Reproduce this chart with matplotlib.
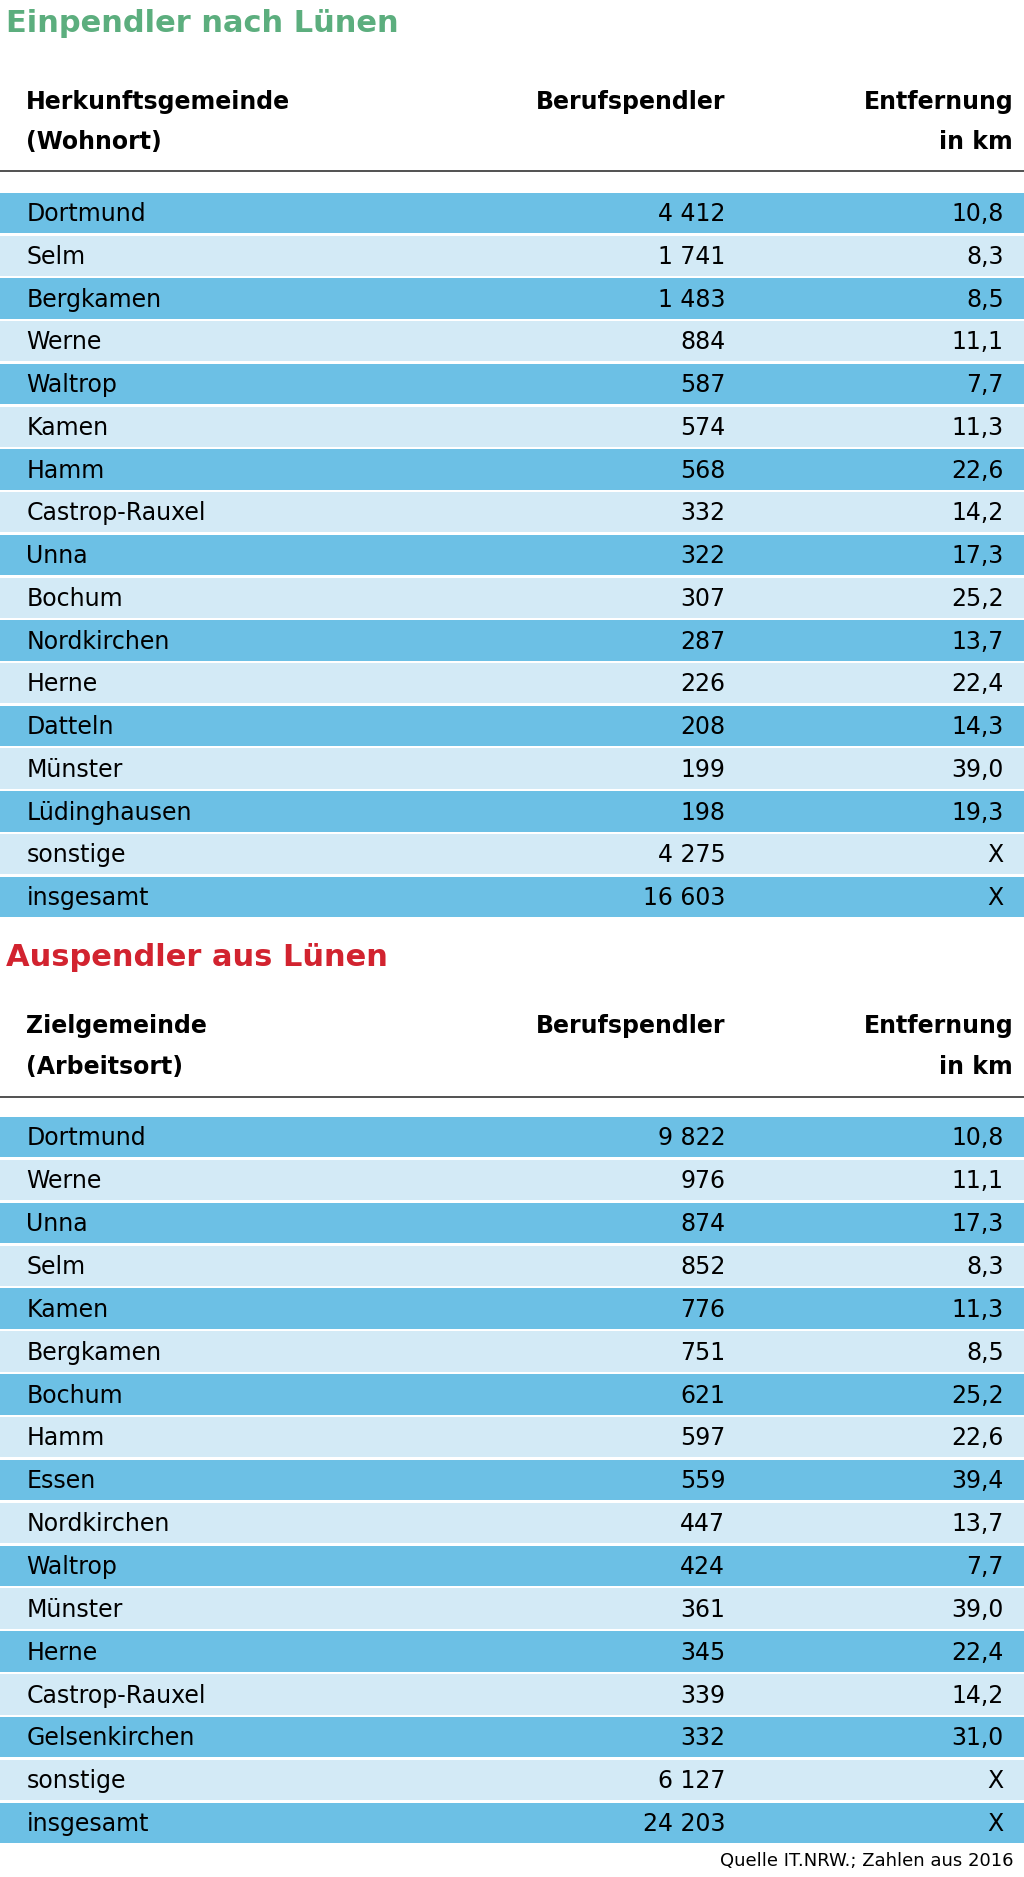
import matplotlib
matplotlib.use("Agg")
import matplotlib.pyplot as plt

ein_orte = ["Dortmund","Selm","Bergkamen","Werne","Waltrop","Kamen","Hamm","Castrop-Rauxel","Unna",
            "Bochum","Nordkirchen","Herne","Datteln","Münster","Lüdinghausen","sonstige","insgesamt"]
ein_pendler = ["4 412","1 741","1 483","884","587","574","568","332","322","307","287","226","208","199","198","4 275","16 603"]
ein_km = ["10,8","8,3","8,5","11,1","7,7","11,3","22,6","14,2","17,3","25,2","13,7","22,4","14,3","39,0","19,3","X","X"]

aus_orte = ["Dortmund","Werne","Unna","Selm","Kamen","Bergkamen","Bochum","Hamm","Essen","Nordkirchen",
            "Waltrop","Münster","Herne","Castrop-Rauxel","Gelsenkirchen","sonstige","insgesamt"]
aus_pendler = ["9 822","976","874","852","776","751","621","597","559","447","424","361","345","339","332","6 127","24 203"]
aus_km = ["10,8","11,1","17,3","8,3","11,3","8,5","25,2","22,6","39,4","13,7","7,7","39,0","22,4","14,2","31,0","X","X"]

FONT = "Liberation Sans Narrow"
DARK = "#6cc0e5"
LIGHT = "#d3eaf6"
W, H = 857, 1568

fig = plt.figure(figsize=(10.24, 18.77), dpi=100)
ax = fig.add_axes([0, 0, 1, 1])
ax.set_xlim(0, W)
ax.set_ylim(H, 0)
ax.axis("off")

def section(title, tcolor, ty, h1, h2, hy, liney, y0, step, orte, pend, km):
    ax.text(5, ty, title, color=tcolor, fontsize=22, fontweight="bold", family=FONT, va="center")
    ax.text(22, hy, h1, fontsize=17, fontweight="bold", family=FONT, va="center")
    ax.text(22, hy + 34, h2, fontsize=17, fontweight="bold", family=FONT, va="center")
    ax.text(607, hy, "Berufspendler", fontsize=17, fontweight="bold", family=FONT, va="center", ha="right")
    ax.text(848, hy, "Entfernung", fontsize=17, fontweight="bold", family=FONT, va="center", ha="right")
    ax.text(848, hy + 34, "in km", fontsize=17, fontweight="bold", family=FONT, va="center", ha="right")
    ax.plot([0, W], [liney, liney], color="#333333", lw=1.2)
    ys = [y0 + i * step for i in range(len(orte))]
    cols = [DARK if i % 2 == 0 else LIGHT for i in range(len(orte))]
    ax.barh(ys, [W] * len(orte), left=0, height=step - 2, color=cols)
    for y, o, p, k in zip(ys, orte, pend, km):
        ax.text(22, y + 1, o, fontsize=17, family=FONT, va="center")
        ax.text(607, y + 1, p, fontsize=17, family=FONT, va="center", ha="right")
        ax.text(840, y + 1, k, fontsize=17, family=FONT, va="center", ha="right")

section("Einpendler nach Lünen", "#5cae7e", 20, "Herkunftsgemeinde", "(Wohnort)", 85, 143,
        178, 35.7, ein_orte, ein_pendler, ein_km)
section("Auspendler aus Lünen", "#d2232f", 800, "Zielgemeinde", "(Arbeitsort)", 857, 916,
        950, 35.8, aus_orte, aus_pendler, aus_km)
ax.text(848, 1555, "Quelle IT.NRW.; Zahlen aus 2016", fontsize=13, family=FONT, va="center", ha="right")

fig.savefig("out.png", dpi=100)
